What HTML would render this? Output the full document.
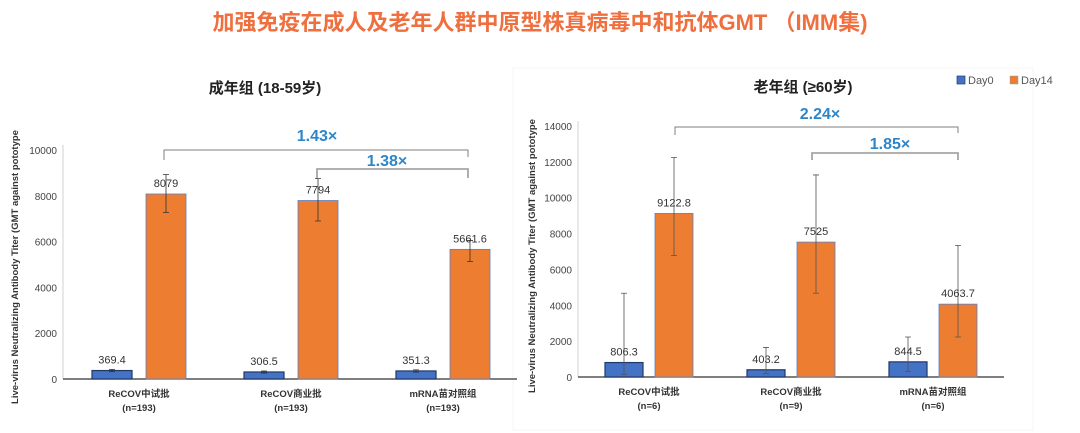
<!DOCTYPE html>
<html><head><meta charset="utf-8">
<style>
body{margin:0;background:#fff;width:1080px;height:433px;overflow:hidden;font-family:"Liberation Sans","Noto Sans CJK SC",sans-serif;}
svg{position:absolute;left:0;top:0}
</style></head>
<body>
<svg id="c" width="1080" height="433" xmlns="http://www.w3.org/2000/svg">
<text x="540" y="30" text-anchor="middle" font-size="22" font-weight="bold" fill="#ef6f3e" font-family="Liberation Sans, Noto Sans CJK SC, sans-serif">加强免疫在成人及老年人群中原型株真病毒中和抗体GMT （IMM集)</text>
<rect x="513" y="68" width="520" height="362" fill="none" stroke="#f4f4f4"/>
<text x="265" y="93" text-anchor="middle" font-size="15" font-weight="bold" fill="#222">成年组 (18-59岁)</text>
<text x="803" y="92" text-anchor="middle" font-size="15" font-weight="bold" fill="#222">老年组 (≥60岁)</text>
<g>
<rect x="957" y="76" width="8" height="8" fill="#4472c4" stroke="#1f3a6e" stroke-width="0.7"/>
<text x="968" y="84" font-size="11" fill="#555">Day0</text>
<rect x="1010" y="76" width="8" height="8" fill="#ed7d31" stroke="#8aa" stroke-width="0.5"/>
<text x="1021" y="84" font-size="11" fill="#555">Day14</text>
</g>
</svg>
<script>
const categories1=["ReCOV中试批","ReCOV商业批","mRNA苗对照组"];
const nLabels1=["(n=193)","(n=193)","(n=193)"];
const day0A=[369.4,306.5,351.3];
const day14A=[8079,7794,5661.6];
const day0ErrA=[[320,420],[260,350],[300,400]];
const day14ErrA=[[7270,8930],[6900,8750],[5130,6050]];
const ticksA=[0,2000,4000,6000,8000,10000];
const categories2=["ReCOV中试批","ReCOV商业批","mRNA苗对照组"];
const nLabels2=["(n=6)","(n=9)","(n=6)"];
const day0B=[806.3,403.2,844.5];
const day14B=[9122.8,7525,4063.7];
const day0ErrB=[[150,4670],[200,1650],[300,2230]];
const day14ErrB=[[6770,12250],[4670,11270],[2230,7340]];
const ticksB=[0,2000,4000,6000,8000,10000,12000,14000];
const foldA=["1.43×","1.38×"];
const foldB=["2.24×","1.85×"];

const NS="http://www.w3.org/2000/svg";
const svg=document.getElementById('c');
function mk(t,a,txt){const e=document.createElementNS(NS,t);for(const k in a)e.setAttribute(k,a[k]);if(txt!==undefined)e.textContent=txt;svg.appendChild(e);return e;}

function chart(cfg){
  const y=v=>cfg.y0-(v/cfg.max)*(cfg.y0-cfg.yTop);
  const gx=i=>cfg.g0+i*cfg.gs;
  let e=mk('line',{x1:cfg.ax,y1:cfg.yTop-5,x2:cfg.ax,y2:cfg.y0,stroke:'#d0d0d0','stroke-width':1});
  
  
  e=mk('line',{x1:cfg.ax,y1:cfg.y0,x2:cfg.axEnd,y2:cfg.y0,stroke:'#333','stroke-width':1.3});
  
  
  cfg.ticks.forEach(t=>{
    const el=mk('text',{x:cfg.ax-6,y:y(t)+4,'text-anchor':'end','font-size':10,fill:'#444'},String(t));
    
    
  });
  const yl=mk('text',{x:0,y:0,'text-anchor':'middle','font-size':9.5,'font-weight':'bold',fill:'#333',transform:`translate(${cfg.ylx},${cfg.ylc}) rotate(-90)`},'Live-virus Neutralizing Antibody Titer (GMT against pototype');
  
  
  cfg.cats.forEach((c,i)=>{
    const cx=gx(i);
    [[cfg.d0,cfg.e0,'#4472c4',-cfg.off,'day0'],[cfg.d14,cfg.e14,'#ed7d31',cfg.off,'day14']].forEach(([d,er,col,o,nm])=>{
      const bx=cx+o-cfg.bw/2;
      const r=mk('rect',{x:bx,y:y(d[i]),width:cfg.bw,height:cfg.y0-y(d[i]),fill:col,stroke:nm==='day0'?'#203864':'#5b7fc7','stroke-width':nm==='day0'?1.2:0.8});
      
      
      const ex=cx+o;
      const eb=mk('path',{d:`M${ex},${y(er[i][0])}V${y(er[i][1])}M${ex-3},${y(er[i][0])}h6M${ex-3},${y(er[i][1])}h6`,stroke:cfg.errCol,'stroke-width':0.8,fill:'none'});
      
      
      const lbl=mk('text',{x:ex,y:y(d[i])-7,'text-anchor':'middle','font-size':11,fill:'#333'},String(d[i]));
      
      
    });
    const t1=mk('text',{x:cx,y:cfg.y0+18,'text-anchor':'middle','font-size':9.5,'font-weight':'bold',fill:'#333'},c);
    
    
    const t2=mk('text',{x:cx,y:cfg.y0+32,'text-anchor':'middle','font-size':9.5,'font-weight':'bold',fill:'#333'},cfg.ns[i]);
    
    
  });
  cfg.br.forEach((b,k)=>{
    const p=mk('path',{d:`M${b.x1},${b.yl1}V${b.y}H${b.x2}V${b.yl2}`,stroke:k?'#a6a6a6':'#7f7f7f','stroke-width':k?1.8:1,fill:'none'});
    
    
    const t=mk('text',{x:b.lx,y:b.ly,'text-anchor':'middle','font-size':16,'font-weight':'bold',fill:'#2e86c8'},cfg.fold[k]);
    
    
  });
}
chart({p:'left',cats:categories1,ns:nLabels1,d0:day0A,d14:day14A,e0:day0ErrA,e14:day14ErrA,ticks:ticksA,max:10000,
  y0:379,yTop:150,ax:63,axEnd:517,g0:139,gs:152,off:27,bw:40,ylx:18,ylc:267,errCol:'#333',fold:foldA,
  br:[{x1:164,x2:468,y:150,yl1:160,yl2:157,lx:317,ly:141},{x1:317,x2:468,y:169,yl1:178,yl2:178,lx:387,ly:166}]});
chart({p:'right',cats:categories2,ns:nLabels2,d0:day0B,d14:day14B,e0:day0ErrB,e14:day14ErrB,ticks:ticksB,max:14000,
  y0:377,yTop:126,ax:578,axEnd:1004,g0:649,gs:142,off:25,bw:38,ylx:535,ylc:256,errCol:'#555',fold:foldB,
  br:[{x1:675,x2:958,y:127,yl1:135,yl2:133,lx:820,ly:119},{x1:812,x2:958,y:153,yl1:160,yl2:160,lx:890,ly:149}]});
</script>
</body></html>
